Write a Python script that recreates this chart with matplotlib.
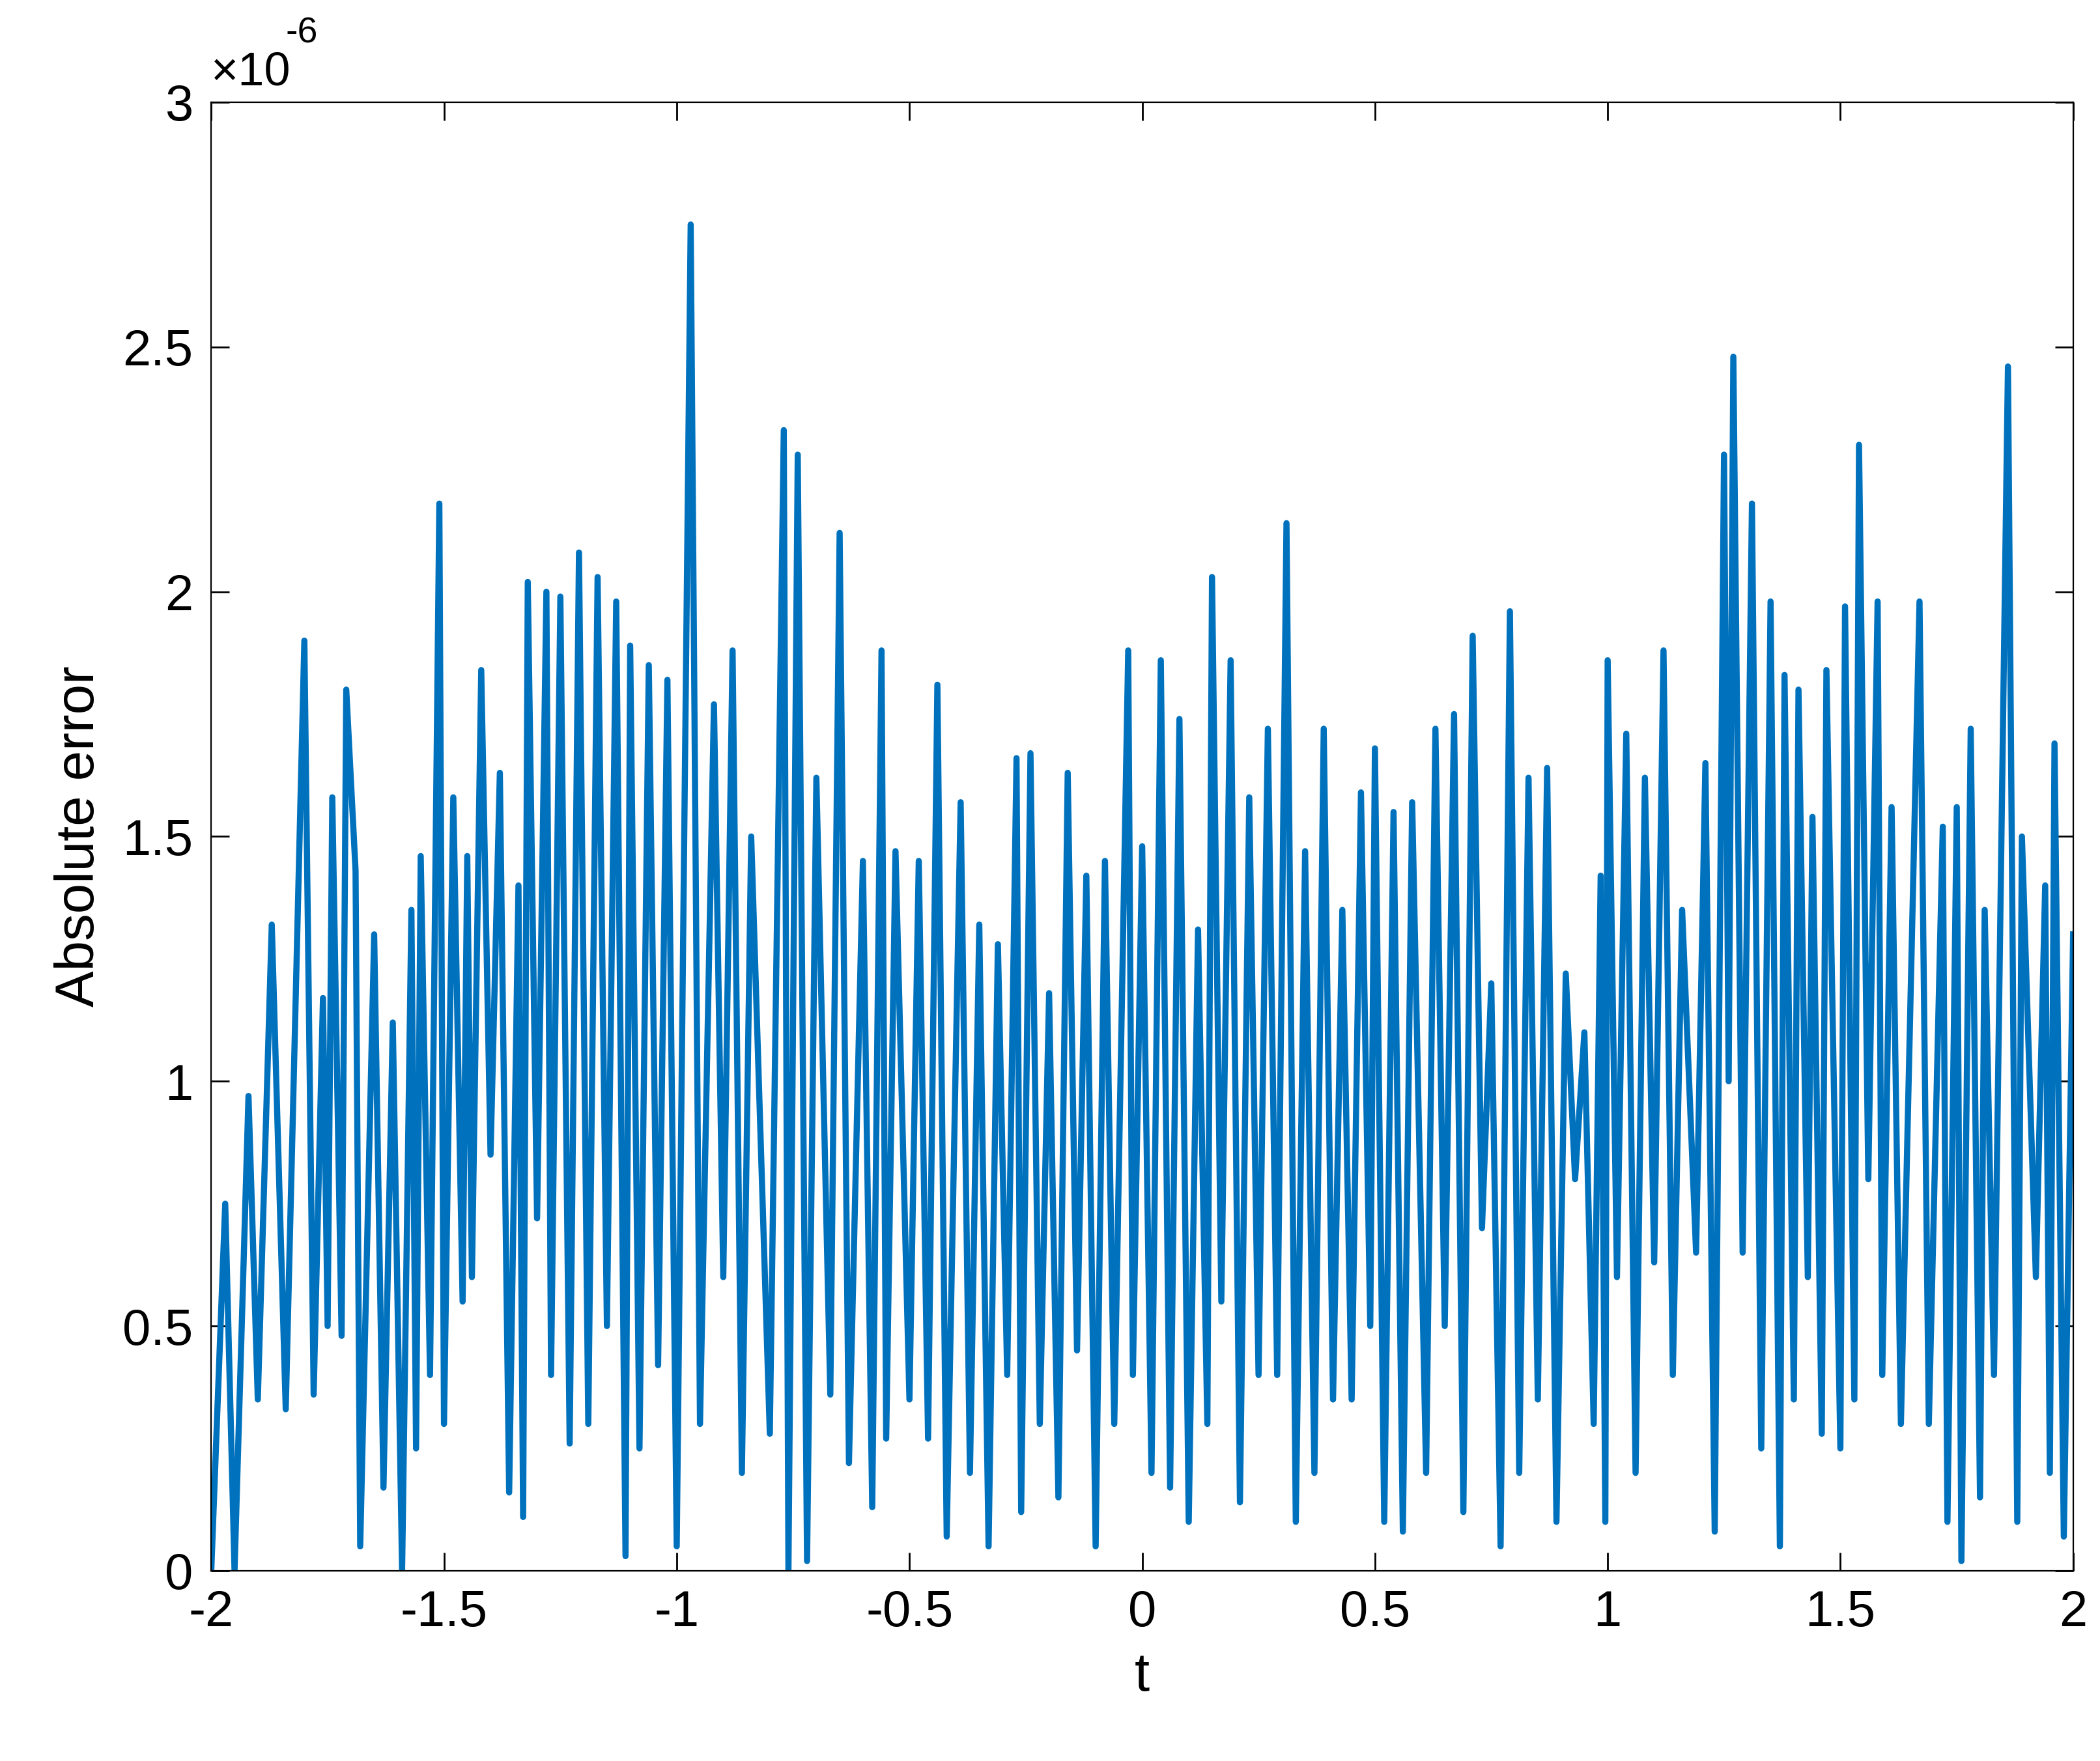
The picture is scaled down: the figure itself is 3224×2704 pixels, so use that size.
import matplotlib
matplotlib.use("Agg")
import matplotlib.pyplot as plt

plt.rcParams['font.family'] = ['Liberation Sans', 'DejaVu Sans']

# local maxima (t, value in 1e-6)
peak_t = [-1.97, -1.92, -1.87, -1.80, -1.76, -1.74, -1.71, -1.69, -1.65, -1.61, -1.57, -1.55, -1.51, -1.48,
          -1.45, -1.42, -1.38, -1.34, -1.32, -1.28, -1.25, -1.21, -1.17, -1.13, -1.10, -1.06, -1.02, -0.97,
          -0.92, -0.88, -0.84, -0.77, -0.74, -0.70, -0.65, -0.60, -0.56, -0.53, -0.48, -0.44, -0.39, -0.35,
          -0.31, -0.27, -0.24, -0.20, -0.16, -0.12, -0.08, -0.03, 0.00, 0.04, 0.08, 0.12, 0.15, 0.19, 0.23,
          0.27, 0.31, 0.35, 0.39, 0.43, 0.47, 0.50, 0.54, 0.58, 0.63, 0.67, 0.71, 0.75, 0.79, 0.83, 0.87,
          0.91, 0.95, 0.985, 1.00, 1.04, 1.08, 1.12, 1.16, 1.21, 1.25, 1.27, 1.31, 1.35, 1.38, 1.41, 1.44,
          1.47, 1.51, 1.54, 1.58, 1.61, 1.67, 1.72, 1.75, 1.78, 1.81, 1.86, 1.89, 1.94, 1.96, 2.00]
peak_y = [0.75, 0.97, 1.32, 1.90, 1.17, 1.58, 1.80, 1.43, 1.30, 1.12, 1.35, 1.46, 2.18, 1.58,
          1.46, 1.84, 1.63, 1.40, 2.02, 2.00, 1.99, 2.08, 2.03, 1.98, 1.89, 1.85, 1.82, 2.75,
          1.77, 1.88, 1.50, 2.33, 2.28, 1.62, 2.12, 1.45, 1.88, 1.47, 1.45, 1.81, 1.57, 1.32,
          1.28, 1.66, 1.67, 1.18, 1.63, 1.42, 1.45, 1.88, 1.48, 1.86, 1.74, 1.31, 2.03, 1.86, 1.58,
          1.72, 2.14, 1.47, 1.72, 1.35, 1.59, 1.68, 1.55, 1.57, 1.72, 1.75, 1.91, 1.20, 1.96, 1.62, 1.64,
          1.22, 1.10, 1.42, 1.86, 1.71, 1.62, 1.88, 1.35, 1.65, 2.28, 2.48, 2.18, 1.98, 1.83, 1.80, 1.54,
          1.84, 1.97, 2.30, 1.98, 1.56, 1.98, 1.52, 1.56, 1.72, 1.35, 2.46, 1.50, 1.40, 1.69, 1.30]

# local minima
trough_t = [-2.00, -1.95, -1.90, -1.84, -1.78, -1.75, -1.72, -1.68, -1.63, -1.59, -1.56, -1.53, -1.50,
            -1.46, -1.44, -1.40, -1.36, -1.33, -1.30, -1.27, -1.23, -1.19, -1.15, -1.11, -1.08, -1.04,
            -1.00, -0.95, -0.90, -0.86, -0.80, -0.76, -0.72, -0.67, -0.63, -0.58, -0.55, -0.50, -0.46,
            -0.42, -0.37, -0.33, -0.29, -0.26, -0.22, -0.18, -0.14, -0.10, -0.06, -0.02, 0.02, 0.06,
            0.10, 0.14, 0.17, 0.21, 0.25, 0.29, 0.33, 0.37, 0.41, 0.45, 0.49, 0.52, 0.56, 0.61, 0.65,
            0.69, 0.73, 0.77, 0.81, 0.85, 0.89, 0.93, 0.97, 0.995, 1.02, 1.06, 1.10, 1.14, 1.19, 1.23,
            1.26, 1.29, 1.33, 1.37, 1.40, 1.43, 1.46, 1.50, 1.53, 1.56, 1.59, 1.63, 1.69, 1.73, 1.76,
            1.80, 1.83, 1.88, 1.92, 1.95, 1.98]
trough_y = [0.00, 0.00, 0.35, 0.33, 0.36, 0.50, 0.48, 0.05, 0.17, 0.00, 0.25, 0.40, 0.30,
            0.55, 0.60, 0.85, 0.16, 0.11, 0.72, 0.40, 0.26, 0.30, 0.50, 0.03, 0.25, 0.42,
            0.05, 0.30, 0.60, 0.20, 0.28, 0.00, 0.02, 0.36, 0.22, 0.13, 0.27, 0.35, 0.27,
            0.07, 0.20, 0.05, 0.40, 0.12, 0.30, 0.15, 0.45, 0.05, 0.30, 0.40, 0.20, 0.17,
            0.10, 0.30, 0.55, 0.14, 0.40, 0.40, 0.10, 0.20, 0.35, 0.35, 0.50, 0.10, 0.08, 0.20, 0.50,
            0.12, 0.70, 0.05, 0.20, 0.35, 0.10, 0.80, 0.30, 0.10, 0.60, 0.20, 0.63, 0.40, 0.65, 0.08,
            1.00, 0.65, 0.25, 0.05, 0.35, 0.60, 0.28, 0.25, 0.35, 0.80, 0.40, 0.30, 0.30, 0.10, 0.02,
            0.15, 0.40, 0.10, 0.60, 0.20, 0.07]

pts = sorted(zip(peak_t + trough_t, peak_y + trough_y))
t = [p[0] for p in pts]
err = [p[1] * 1e-6 for p in pts]

fig = plt.figure(figsize=(16.12, 13.52), dpi=200)
ax = fig.add_axes([0.1006, 0.108, 0.8866, 0.834])
ax.plot(t, err, color="#0072BD", lw=3.4)

ax.set_xlim(-2, 2)
ax.set_ylim(0, 3e-6)
ax.set_xticks([-2, -1.5, -1, -0.5, 0, 0.5, 1, 1.5, 2])
ax.set_xticklabels(["-2", "-1.5", "-1", "-0.5", "0", "0.5", "1", "1.5", "2"])
ax.set_yticks([i * 0.5e-6 for i in range(7)])
ax.set_yticklabels(["0", "0.5", "1", "1.5", "2", "2.5", "3"])
ax.tick_params(direction="in", length=10, width=1, labelsize=28, top=True, right=True, pad=10)
ax.text(0.0, 1.005, "\u00d710", transform=ax.transAxes, fontsize=26, va="bottom", ha="left")
ax.text(0.040, 1.035, "-6", transform=ax.transAxes, fontsize=20, va="bottom", ha="left")

ax.set_xlabel("t", fontsize=30, labelpad=8)
ax.set_ylabel("Absolute error", fontsize=30, labelpad=10)

fig.savefig("out.png", dpi=200)
